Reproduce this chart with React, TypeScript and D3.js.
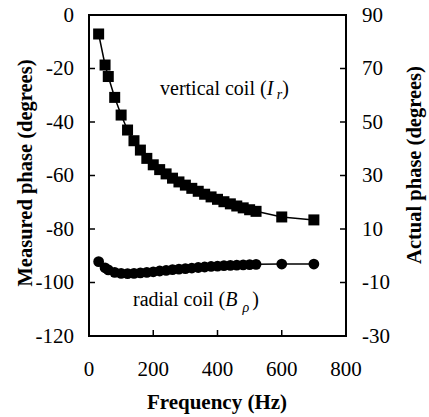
import React from "react";
import * as d3 from "d3";

const freqSquares = [30, 50, 60, 80, 100, 120, 140, 160, 180, 200, 220, 240, 260, 280, 300, 320, 340, 360, 380, 400, 420, 440, 460, 480, 500, 520, 600, 700];
const verticalCoil = [-7.1, -18.7, -23, -30.8, -37.4, -43, -47, -50.5, -53.6, -56, -57.8, -59.4, -61, -62.4, -63.6, -64.8, -65.9, -67, -68, -68.9, -69.8, -70.6, -71.4, -72.1, -72.8, -73.4, -75.5, -76.6];
const radialCoil = [-92.2, -94.5, -95.3, -96.2, -96.6, -96.7, -96.6, -96.4, -96.2, -96.0, -95.7, -95.5, -95.2, -95.0, -94.8, -94.6, -94.4, -94.2, -94.0, -93.9, -93.7, -93.6, -93.5, -93.4, -93.3, -93.2, -93.1, -93.1];
const xTicks = [0, 200, 400, 600, 800];
const leftTicks = [0, -20, -40, -60, -80, -100, -120];
const rightTicks = [90, 70, 50, 30, 10, -10, -30];

const FONT = '"Liberation Serif", "DejaVu Serif", serif';

export default function App() {
  const L = 89, R = 346, T = 15, B = 336;
  const x = d3.scaleLinear().domain([0, 800]).range([L, R]);
  const y = d3.scaleLinear().domain([-120, 0]).range([B, T]);
  const y2 = d3.scaleLinear().domain([-30, 90]).range([B, T]);
  const mk = d3.line<number>().x((_, i) => x(freqSquares[i])).y((d) => y(d));
  const vPath = mk(verticalCoil) || "";
  const rPath = mk(radialCoil) || "";
  const sq = 11;
  const ts: React.CSSProperties = { fontFamily: FONT };
  const tickFs = 21;
  return (
    <svg width={429} height={417} style={{ position: "absolute", left: 0, top: 0, background: "#fff", fontFamily: FONT }}>
      <rect x={0} y={0} width={429} height={417} fill="#fff" />
      <path d={vPath} fill="none" stroke="#000" strokeWidth={1.5} />
      <path d={rPath} fill="none" stroke="#000" strokeWidth={1.5} />
      {verticalCoil.map((v, i) => (
        <rect key={"s" + i} x={x(freqSquares[i]) - sq / 2} y={y(v) - sq / 2} width={sq} height={sq} fill="#000" />
      ))}
      {radialCoil.map((v, i) => (
        <circle key={"c" + i} cx={x(freqSquares[i])} cy={y(v)} r={5.4} fill="#000" />
      ))}
      <rect x={L} y={T} width={R - L} height={B - T} fill="none" stroke="#000" strokeWidth={2} />
      {leftTicks.map((t) => (
        <g key={"l" + t}>
          <line x1={L} x2={L + 6} y1={y(t)} y2={y(t)} stroke="#000" strokeWidth={1.5} />
          <text style={ts} x={74} y={y(t)} dy="0.33em" textAnchor="end" fontSize={tickFs}>{t}</text>
        </g>
      ))}
      {rightTicks.map((t) => (
        <g key={"r" + t}>
          <line x1={R - 6} x2={R} y1={y2(t)} y2={y2(t)} stroke="#000" strokeWidth={1.5} />
          <text style={ts} x={362} y={y2(t)} dy="0.33em" textAnchor="start" fontSize={tickFs}>{t}</text>
        </g>
      ))}
      {xTicks.map((t) => (
        <g key={"x" + t}>
          <line x1={x(t)} x2={x(t)} y1={B} y2={B - 6} stroke="#000" strokeWidth={1.5} />
          <text style={ts} x={x(t)} y={376} textAnchor="middle" fontSize={tickFs}>{t}</text>
        </g>
      ))}
      <text style={ts} x={217} y={409} textAnchor="middle" fontSize={21} fontWeight="bold">Frequency (Hz)</text>
      <text style={ts} transform={`translate(32,173) rotate(-90)`} textAnchor="middle" fontSize={20.5} fontWeight="bold">Measured phase (degrees)</text>
      <text style={ts} transform={`translate(421,165) rotate(-90)`} textAnchor="middle" fontSize={20.5} fontWeight="bold">Actual phase (degrees)</text>
      <text style={ts} x={160} y={95} fontSize={20}>
        vertical coil (<tspan fontStyle="italic">I</tspan><tspan fontStyle="italic" fontSize={14} dy={4}> r</tspan><tspan dy={-4}>)</tspan>
      </text>
      <text style={ts} x={133} y={306} fontSize={20}>
        radial coil (<tspan fontStyle="italic">B</tspan><tspan fontStyle="italic" fontSize={14} dx={5} dy={6}>ρ</tspan><tspan dx={3} dy={-6}>)</tspan>
      </text>
    </svg>
  );
}
